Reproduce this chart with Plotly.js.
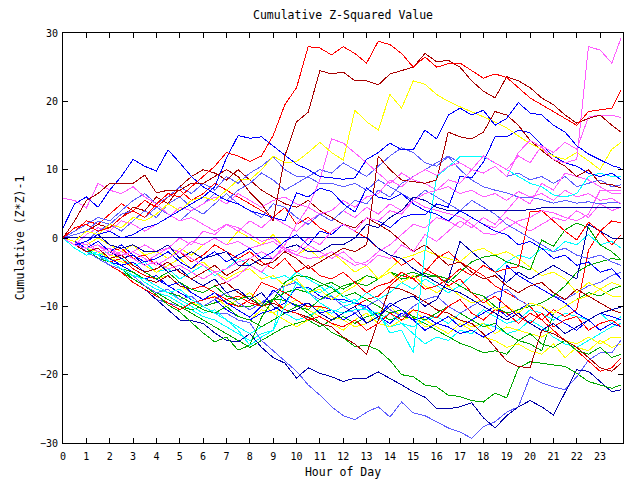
<!DOCTYPE html>
<html>
<head>
<meta charset="utf-8">
<script src="https://cdn.plot.ly/plotly-3.0.1.min.js"></script>
<style>html,body{margin:0;padding:0;background:#fff;}#chart{width:640px;height:480px;}
#chart path.js-line{shape-rendering:crispEdges;}</style>
</head>
<body>
<div id="chart"></div>
<script>
// Hour positions of every sample (half-hour steps)
const hours = [0,0.5,1,1.5,2,2.5,3,3.5,4,4.5,5,5.5,6,6.5,7,7.5,8,8.5,9,9.5,10,10.5,11,11.5,
  12,12.5,13,13.5,14,14.5,15,15.5,16,16.5,17,17.5,18,18.5,19,19.5,20,20.5,21,21.5,22,22.5,23,23.5,23.9];
const xTickVals = [0,1,2,3,4,5,6,7,8,9,10,11,12,13,14,15,16,17,18,19,20,21,22,23];
const xTickText = ["0","1","2","3","4","5","6","7","8","9","10","11","12","13","14","15","16","17","18","19","20","21","22","23"];
const yTickVals = [-30,-20,-10,0,10,20,30];

// Series values: cumulative (Z*Z)-1
const red1 = [0,1.5,2,1,1.5,3,4,3, 5,6.5,6,7.5,9,10.5,12.5,12, 11.2,12,15,19.5,22,28,27.8,26.8,
  28,27,25.6,28.8,28.3,27,25,26.5, 25,25.5,25.6,24.5,23.4,24,23.5,22, 20.5,19.5,18.5,17.5,16.5,18.5,18.8,19, 21.7];
const darkRed1 = [0,2.5,5.5,6.5,8,8,8,9.2, 6.6,7,7,8,8,9,10,9, 6.7,5,2.5,12,17,18.4,24.5,24,
  24.3,23,23,22.4,24,24.5,25,27, 25.8,26,25,23,21.5,20.5,23.6,23, 22,20.5,19.5,18,16.8,17.5,18,16.5, 15.5];
const yellow1 = [0,-0.5,1,0.5,2,1.5,3,2.5, 3.5,5,4,5.5,6,5.5,7,8.5, 8.5,10,12,11,11.2,12.5,14,12.5,
  11.4,18.7,17,15.8,21,19,23,22.5, 21,20,19.2,18.5,17.8,17,16.1,15, 13.8,13,12,11.5,12.5,11.3,10,13, 14];
const blue1 = [0,-1,-0.5,0.5,1,0,0.5,1.5, 2,3,4,5,6,7.5,11.7,15, 14.6,14.8,13.5,12.2,10.8,10,9,8.8,
  8.6,8.8,11.5,12.5,13.9,12.9,12.9,15.8, 14.5,18,19,18,18.7,16.5,17.5,19.8, 18.3,18,16.5,15.5,13.5,12.3,11.4,10.6, 10.2];
const blue2 = [1.5,5,6,4.5,7,9,11.5,10.5, 9.8,12.9,11,9,7.5,6.5,5.5,5, 4,3.5,3,2.5,6.6,6,7.3,6.8,
  5,3.8,7.3,6,5.6,6.5,5,4, 3.5,2.5,4,3,2,1,0.5,-1, -0.5,-1.5,-3,-2.5,-4,-3.5,-5,-4.5, -6];
const magenta1 = [5.8,5.5,4.4,8,7,6.5,7.5,6, 5,3.5,2.5,3,2,1,2,1.5, 0.5,-0.5,0,-1.5,-2.5,-1,-2,-3,
  -2,-3.5,-4,-2.5,-3,-1,-2,0.5, -0.5,1,2.5,1.5,3,2,4,6, 5,8,7,9.5,9,8.5,7.5,6.5, 6.5];
const magenta2 = [0,-1,-1.5,-1,-2,-2.5,-2,-3, -4,-3,-2,-3,-4,-5,-4.5,-3.5, -3,-2,-3,-1.5,-2,0,-1,1,
  2,1,3,2.5,4,3.5,5.5,6.5, 7,8.5,8,10,9.5,10.5,9,12.5, 14.3,13.3,11.5,11,11.5,28,27.5,25.6, 29.3];
const magenta3 = [0,-1,0.5,1.5,1,2.5,2,1, 2,3,4.5,4,5,6,5,6.5, 5.5,4.5,5.5,6,5,4.5,3.5,4,
  5.5,4.5,6,6.5,8.5,7.5,9,10, 9.2,10.5,11,10,12,11,10,12, 11,13.5,12.5,14,13,17.7,18,18, 17.6];
const magenta4 = [0,-0.5,-1.5,-1,-2.5,-2,-3,-4, -3.5,-4.5,-4,-5,-6,-5,-6.5,-5.5, -4,-5,-3,-1,2,4.5,8.5,14.5,
  13.9,12.5,11,9.5,8,9.5,8.5,8, 7,7.5,6.5,7,6,6.5,5.5,6.8, 6,6.5,5.5,7,6,6.5,5.5,5.8, 5];
const darkRed2 = [0,-1,-2,-1.5,-3,-2.5,-4,-5, -4.5,-3.5,-5,-6,-5,-4,-5.5,-4.5, -3,-4,-3.5,-2,-3,-4.5,-3.5,-2.5,
  -1.5,-2,-1,12,10,8.5,8.2,8, 8.5,15.5,14.8,14.5,15.5,18.5,18,16.5, 14.3,12.8,11.5,10.5,9,10,8,7.8, 7.3];
const darkRed3 = [0,-1,-2,-2.5,-3.5,-4.5,-5,-6, -6.5,-5.5,-7,-7.5,-8,-7,-6.5,-8, -9,-10,-9.5,-10.5,-11,-11.6,-12.5,-13,
  -14.5,-15.5,-17,-12,-7.2,-7.5,-8.3,-9.3, -10.5,-11,-12,-12.5,-14,-16,-18,-18.8, -19,-13.5,-14,-15,-16,-17.5,-19,-19.5, -18.3];
const red2 = [0,-0.5,-1.5,-1,-2,-1.5,-3,-2.5, -4,-3,-2,-3.5,-2.5,-1,-2,-3, -2,-3.5,-4.5,-3,-5,-4,-5.5,-6,
  -5,-6.5,-8,-7,-6.5,-5,-6,-7.5, -7,-6,-4.5,-5.5,-4,-5,-4.5,-4.2, 3.8,4,2.5,1,-0.3,2.3,1,2.5, 2.2];
const red3 = [0,-1,-2,-2.5,-3.5,-3,-4.5,-5.5, -6,-5,-6.5,-7.5,-7,-8,-9,-8.5, -9.5,-10,-9,-10.5,-11,-12,-11.5,-12.5,
  -13,-12,-13.5,-12.5,-11,-12,-10.5,-11, -11.7,-10,-9,-11,-12,-10.5,-11,-12.5, -11,-12,-10.5,-11.5,-10.5,-1.8,1,-1, 0.5];
const navy1 = [0,0.1,0.1,0.1,0.1,0.1,0.1,0.1, 0.1,0.1,0.1,0.1,0.1,0.1,0.1,0.1, 0.1,0.1,0.1,0.1,0.1,0.1,0.1,0.1,
  0.1,0.1,0.1,-1.5,-2.5,-3,-4.5,-5.5, -6.5,-7.5,-8,-9,-10,-11,-12,-11, -12.5,-13.5,-12.5,-14,-13,-12,-11,-10.5, -10.1];
const navy2 = [0,-1,-0.5,0.5,-1,-1.5,-1,-2, -2,-1,-3,-2,-3,-2.5,-2,-4, -4,-3,-3,-1.5,-1,-2,-2,-1,
  -1,0,2,1.5,3,4,6,5.5, 4.5,4,4,4,4,4,4,4, 4.1,4.4,4.4,4.4,4.4,4.4,4.4,4.4, 4.4];
const lightBlue1 = [0,-0.5,-2,-2.5,-4,-5,-6.5,-7.5, -9,-9.5,-10,-10.5,-10,-11,-11,-12, -12.4,-15,-16.5,-18,-19.5,-21.5,-23,-24.7,
  -26,-26.6,-25.5,-24.7,-26.2,-24,-25.6,-26, -26.9,-27.8,-28.4,-29.3,-27.6,-26.9,-25.5,-24.7, -20.3,-21.2,-21.8,-22.2,-20.3,-17.9,-16.8,-16.8, -14.9];
const navy3 = [0,-1,-2,-3,-4,-5,-6.5,-7.5, -9,-10.5,-12,-12.1,-12.5,-13.9,-15,-15.2, -14,-16,-17.5,-18.3,-20.5,-19,-19.8,-20.3,
  -21,-20.5,-20.5,-19.6,-20.5,-21.5,-22.5,-23.3, -25,-25,-24.7,-24.1,-26.3,-27.8,-26,-24.7, -23.8,-24.7,-25.9,-22.5,-19.3,-19.5,-21,-22.5, -22.2];
const green1 = [0,-1,-2,-3,-4,-5,-6,-7, -8,-9,-10,-10.5,-10,-9.5,-9,-10, -10,-9.5,-9,-9.1,-9.8,-11,-12.4,-13.8,
  -14.6,-15.9,-15.7,-16.4,-17.9,-20,-20.3,-21.5, -21.8,-23,-23.2,-23.8,-24,-22.7,-23.4,-19, -18.1,-18.3,-18.6,-18.8,-19.8,-21,-21.5,-22, -21.5];
const green2 = [0,-1,-1.5,-3,-3.5,-4.5,-6,-7, -8.3,-9.8,-10.8,-12.4,-13.9,-15.2,-14.5,-16.4, -15.7,-11.6,-9,-6.5,-5.5,-5.7,-6.5,-7.3,
  -8.6,-8,-9,-10,-11,-10.5,-11.5,-12, -11,-10,-11,-12,-13,-12.5,-14,-15, -14,-15.5,-16,-15,-16.5,-17,-16,-17.5, -17];
const green3 = [0,-1,-2,-1.5,-3,-2.5,-4,-5, -6,-5,-6.5,-7.5,-8,-7,-8.5,-9, -8.5,-10,-9,-8,-7.5,-8,-7,-6.5,
  -7.5,-6.5,-5.5,-6,-5,-6,-5.7,-5.2, -5.7,-6.5,-5,-3.5,-2.8,-2.5,-3.5,-4, -4.7,-0.3,-1.2,1.2,2.2,1.5,-1,-2, -3.2];
const cyan1 = [0,-1,-2,-2.5,-3.5,-4.5,-5.5,-6, -7,-8,-7.5,-9,-10,-11,-12,-13.5, -15.7,-14.5,-13.5,-10,-6.6,-8,-9.5,-10.5,
  -11,-10.5,-10.5,-11,-13.9,-13.5,-16.8,-2, 9,10.4,11.9,11.9,11.9,11,10,9, 8,7.5,6.3,6,6.5,9,9.5,9, 9];
const cyan2 = [0,-1.5,-2.5,-2,-3.5,-4,-5,-6.5, -7.5,-8,-9,-10,-11,-10.5,-12,-13, -14,-13,-12,-11,-12,-11.5,-10.5,-11,
  -10,-9.5,-10.5,-12,-11,-12.5,-13,-12, -11.5,-12.5,-11,-12,-10.5,-11.5,-12.5,-12, -10.5,-11,-12,-11,-11.5,-12,-11,-12.5, -11.5];
const cyan3 = [0,-1,-1.5,-2.5,-2,-3,-4,-3.5, -5,-4.5,-6,-5,-4,-5.5,-4.5,-3, -4,-5,-6,-5.5,-6.5,-7.5,-8,-7,
  -8.5,-9.5,-8,-9,-8,-6.5,-7.5,-6, -7,-8,-7,-5.5,-4,-5,-3.5,-2.5, -3,-1.5,-2,-0.5,-1,0.5,-1,-0.5, -1.5];
const cyan4 = [0,-1,-2,-3,-4,-5,-5.5,-7, -8,-8.5,-9.5,-10.5,-11.5,-12,-13,-14, -15,-14,-13.5,-6.6,-5,-6,-7,-8.5,
  -9.5,-9,-10.5,-11.5,-13,-12.5,-14,-15.5, -14.5,-15,-13.5,-14,-12.5,-13,-14,-13.5, -12,-13,-14.5,-15.5,-16,-15,-14,-13, -12.5];
const yellow2 = [0,-0.5,-1.5,-2,-3,-3.5,-4,-5, -6,-5.5,-7,-8,-9,-8.5,-10,-9, -8,-9.5,-11,-10,-9,-10.5,-11.5,-12.5,
  -13.5,-12,-11,-12.5,-13,-12,-11.5,-13, -12.5,-11.5,-12,-13,-12.5,-14,-13,-13.5, -14,-14.5,-13.5,-15,-15.5,-14.5,-15.5,-14.5, -14.6];
const yellow3 = [0,-1,-1.5,-1,-2.5,-3,-2.5,-4, -5,-4,-3,-4.5,-3.5,-5,-6,-5, -4.5,-6,-5.5,-7,-6,-8,-7.5,-9,
  -8,-7,-5.5,-6,-4.5,-3,-2.5,-1.8, -2.5,-3,-3.5,-2,-1.5,-2.5,-2,-3, -4.2,-5.5,-5,-6,-8,-6.5,-7.5,-8.5, -8.6];
const yellow4 = [0,-1,-2,-3,-3.5,-4.5,-5,-6, -7,-8,-8.5,-9.5,-10,-11,-10,-11.5, -12,-10.5,-11,-12,-13,-12,-10,-11.5,
  -12,-13,-12.5,-11,-10,-11.5,-10.5,-12, -13,-14,-12.5,-13.5,-14.5,-15,-16,-15.5, -16.5,-17,-15.5,-17.5,-16,-16.5,-15,-16, -15.5];
const yellow5 = [0,-0.5,-1,0,-1,-2,-1,-2.5, -2,-3,-1.5,-2.5,-1,0,-1,1, 0,-1,0.5,-1.5,-2.5,-1.5,-3,-2,
  -3.5,-5,-4,-6,-5,-6.5,-5.5,-7, -8,-7,-8.5,-9.5,-9,-10.5,-10,-11, -9.5,-10,-11,-10,-9,-8.5,-7.5,-6.5, -7];
const lightBlue2 = [0,0.5,1,2.5,2,3.5,4,3, 4.5,3.5,2.5,4,5,6.5,5.5,7, 8,9.5,8.5,7,8,9,10,9.5,
  11,10,9,10.5,12,13.2,12.5,11, 10.5,11.9,10,8.5,7.5,7,6.6,6, 6,5.6,5.1,5.5,5.1,5.3,5,5.2, 5.1];
const lightBlue3 = [0,-1,-0.5,1,2,1,2.5,4, 3,5,6,4.5,3.5,5,6.5,5, 4,3,5,4.5,3,2,3.5,2.5,
  4,5.5,5,7,6,8,9,10, 11,12,11,10,9.5,10.5,9,9.5, 8.5,9,8,9,7.5,8,8.5,7.5, 7.8];
const lightBlue4 = [0,-1,-2,-3,-4,-4.5,-5.5,-7, -8,-7.5,-9,-8.5,-10,-9,-8,-9.5, -10.5,-9.5,-8,-7,-6.5,-8,-9,-8.5,
  -10,-11,-10,-9,-10.5,-11.5,-10,-9, -8.5,-10,-11,-10,-9,-8,-7.5,-9, -10,-9.5,-8.5,-9,-8,-7,-6.5,-5.5, -5];
const lightBlue5 = [0,1,2,3,2.5,4,5.5,6.5, 5,6,7.5,6.5,8,7,9,8, 9.5,10.5,11.9,10,9,8.9,8,8,
  7.5,8,7,8.5,7.5,6.5,5.5,7, 6,5,4,5.5,4.5,3.5,2,1, 0,-1,-2,-1.5,-2.5,-3,-2.5,-3.5, -4];
const navy4 = [0,-0.5,-1.5,-1,-2,-3,-2.5,-4, -3.5,-5,-4.5,-6,-7,-6,-8,-7.5, -9,-8,-10,-11,-10.5,-9.5,-11,-12,
  -11,-10,-12.5,-11.5,-10,-9,-8.5,-10, -9,-6,-0.5,-2,-3.5,-5,-6.5,-5, -6,-5,-4,-5,-6,2,1,0, 0];
const blue3 = [0,-1,-1.5,-2.5,-3,-4,-3.5,-5, -6,-7,-6.5,-8,-9,-8,-9.5,-10.5, -11.6,-10,-7.6,-9,-10,-9.5,-11,-10.5,
  -12,-11,-12.5,-11.5,-9.5,-10.5,-12,-11.5, -12.5,-13,-14,-13.5,-14.5,-13.5,-4,-5.5, -6.5,-7.5,-8.5,-9.5,-11,-12,-13.5,-12.5, -13];
const blue4 = [0,-0.5,-1.5,-0.5,-2,-1,-2.5,-3.5, -3,-2,-3.5,-4.5,-3,-2,-3.5,-2.5, -1.5,-3,-2,-0.5,0.5,-1,1,0.5,
  2,1,3,2.5,1.5,3,3.5,3.4, 5,4.5,9,8.8,11.1,14.8,14.8,15.8, 15.4,13.6,12,11,10.5,9.5,9,9.5, 8.5];
const blue5 = [0,-1,-2,-2.5,-3.5,-4,-5,-6, -5.5,-7,-8,-9,-10,-9,-10.5,-11.5, -12,-11,-10.5,-9.5,-7.2,-7.2,-8.5,-9,
  -9,-9.5,-10,-11.5,-12.5,-11,-12,-13.5, -12.5,-11.5,-13,-12,-11,-10,-11.5,-10.5, -9.5,-10,-11.5,-12.5,-13.5,-12,-11,-11.5, -12];
const red4 = [0,-1,-2,-3,-4,-5,-6.5,-7.5, -8.5,-9.5,-10.5,-9.5,-9,-8.6,-9.5,-10, -9.1,-6.5,-7.2,-8,-9.1,-10.1,-10,-10.5,
  -11,-10,-9,-8.5,-7,-5.5,-6,-5, -3,-2,-3.5,-4.5,-5.5,-7,-8,-9, -10,-12,-13.5,-15,-16.5,-18,-19.5,-19, -17.5];
const red5 = [0,1,2.5,2,3.5,5,4,5.5, 4.5,6,7,5.5,6.5,8,7,6, 5,4,3,4.5,2,3,1.5,0.5,
  2,1,0,-1.5,-2.5,-4,-3,-4.5, -5.5,-7,-6,-8,-9.5,-8.5,-10,-11.5, -12.5,-11,-13,-12,-11.5,-13.5,-12.5,-12, -13];
const darkRed4 = [0,-0.5,1,2,1.5,3,4.5,4, 6,5,7.5,9,10,9.5,8.5,10, 8.5,7,6,5,4.5,5.5,4,3,
  2,1.5,3,2,1,-0.5,-2,-1, -2.5,-4,-3.5,-5,-6,-5.5,-7,-8, -7,-6.5,-8,-9,-7.5,-8.5,-9.5,-10.5, -11];
const magenta5 = [0,-1,-0.5,-2,-1.5,-2.5,-2,-1, -2,-1.5,0,-1,1,0.5,2,1, 2.5,1.5,3,2,1,2.5,3.5,2.5,
  4,3,4.5,3.5,5,4,5.5,4.5, 4,3.5,3.1,2,0.7,0.5,1.5,2.5, 3,4,3.7,3,2.5,3.5,7,7, 7];
const magenta6 = [0,-0.5,-1,-2,-1.5,-3,-2.5,-3.5, -2.5,-1.5,-2,-0.5,-1,0,-1,-0.5, -1.5,-1,-0.5,-1.8,-2.5,-3,-2.8,-2,
  -3,-4,-3.5,-2,-1,0.5,2,1.5, 3,2.5,1.5,3,2,1.5,3,2, 1,2,3,2.5,4,3,5,4, 4.5];
const green4 = [0,-1,-2,-2.5,-3.5,-4.5,-5,-6, -7,-8,-8.5,-9.5,-10.5,-11,-10,-11.5, -12,-13,-12,-11,-10,-10.5,-9,-8,
  -7,-6.5,-7,-6,-5,-5.5,-5,-5.7, -5.5,-6,-7,-8,-8.5,-10,-11,-10.5, -10,-9.5,-8.5,-7,-5,-4,-3.5,-3, -3.2];
const green5 = [0,-1,-2,-3,-4,-5,-6,-7, -8,-9,-10,-11,-12,-13,-14,-15, -16,-15,-14,-13,-12.5,-12,-13,-12,
  -11.5,-12.5,-11.5,-11,-12,-11.5,-11.7,-12.5, -13.5,-14.5,-15.4,-16,-16.8,-16.5,-17,-15, -15.5,-16.5,-11,-10,-9,-8,-8.5,-7.5, -7];

const C = {red:'#ff0000', darkRed:'#a80000', blue:'#0000ff', navy:'#0000a8', lightBlue:'#5c5cff',
  magenta:'#ff5cff', yellow:'#ffff00', cyan:'#00ffff', green:'#00a800'};

const series = [
  [green5, C.green], [cyan4, C.cyan], [yellow4, C.yellow], [lightBlue1, C.lightBlue], [navy3, C.navy],
  [green1, C.green], [cyan2, C.cyan], [yellow2, C.yellow], [red4, C.red], [blue5, C.blue],
  [green2, C.green], [lightBlue4, C.lightBlue], [darkRed3, C.darkRed], [red3, C.red], [blue3, C.blue],
  [cyan3, C.cyan], [yellow3, C.yellow], [green4, C.green], [green3, C.green], [yellow5, C.yellow],
  [magenta6, C.magenta], [navy4, C.navy], [red2, C.red], [magenta5, C.magenta], [red5, C.red],
  [darkRed4, C.darkRed], [lightBlue5, C.lightBlue], [lightBlue3, C.lightBlue], [lightBlue2, C.lightBlue],
  [magenta4, C.magenta], [magenta1, C.magenta], [cyan1, C.cyan], [blue4, C.blue], [darkRed2, C.darkRed],
  [magenta3, C.magenta], [navy2, C.navy], [navy1, C.navy], [blue2, C.blue], [yellow1, C.yellow],
  [blue1, C.blue], [darkRed1, C.darkRed], [magenta2, C.magenta], [red1, C.red]
];

const traces = series.map(function (s) {
  return {x: hours, y: s[0], type: 'scatter', mode: 'lines',
    line: {color: s[1], width: 1}, hoverinfo: 'skip', showlegend: false};
});

const mono = 'DejaVu Sans Mono, Liberation Mono, monospace';
const axisCommon = {
  showline: true, linecolor: '#000', linewidth: 1, mirror: 'ticks',
  ticks: 'inside', ticklen: 5, tickwidth: 1, tickcolor: '#000',
  showgrid: false, zeroline: false, fixedrange: true,
  tickfont: {family: mono, size: 10, color: '#000'}
};

const layout = {
  width: 640, height: 480,
  margin: {l: 63, r: 17, t: 33, b: 37, pad: 0},
  paper_bgcolor: '#fff', plot_bgcolor: '#fff',
  showlegend: false,
  title: {text: 'Cumulative Z-Squared Value', font: {family: mono, size: 11.5, color: '#000'},
    xref: 'paper', x: 0.5, xanchor: 'center', yref: 'container', y: 0.968, yanchor: 'middle'},
  xaxis: Object.assign({}, axisCommon, {
    range: [0, 23.98], tickmode: 'array', tickvals: xTickVals, ticktext: xTickText,
    ticklabelstandoff: 4,
    title: {text: 'Hour of Day', font: {family: mono, size: 11.5, color: '#000'}, standoff: 6}
  }),
  yaxis: Object.assign({}, axisCommon, {
    range: [-30, 30], tickmode: 'array', tickvals: yTickVals,
    ticklabelstandoff: 2,
    title: {text: 'Cumulative (Z*Z)-1', font: {family: mono, size: 11.5, color: '#000'}, standoff: 12}
  })
};

Plotly.newPlot('chart', traces, layout, {staticPlot: true, displayModeBar: false});
</script>
</body>
</html>
